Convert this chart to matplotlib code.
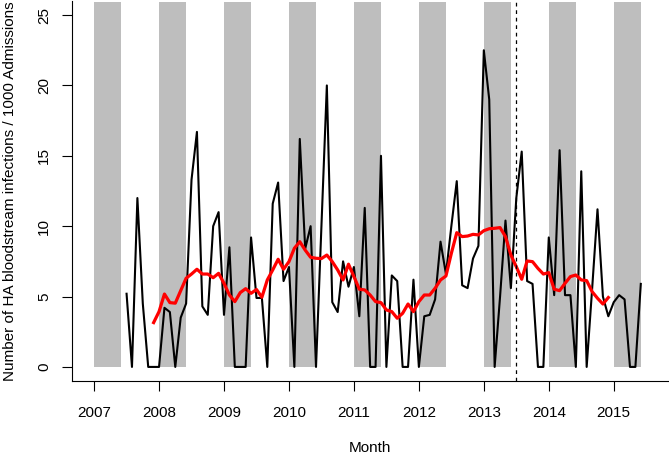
import matplotlib
matplotlib.use('Agg')
import matplotlib.pyplot as plt
import numpy as np

plt.rcParams['font.family'] = ['Liberation Sans', 'DejaVu Sans']
plt.rcParams['font.size'] = 11

# monthly rate, Jul 2007 .. Jun 2015
rate_2007 = [5.2, 0, 12.0, 4.5, 0, 0]  # Jul-Dec
rate_2008 = [0, 4.2, 3.9, 0, 3.5, 4.5, 13.3, 16.7, 4.3, 3.7, 10.0, 11.0]
rate_2009 = [3.7, 8.5, 0, 0, 0, 9.2, 4.9, 4.9, 0, 11.6, 13.1, 6.1]
rate_2010 = [7.1, 0, 16.2, 8.4, 10.0, 0, 10.0, 20.0, 4.6, 3.9, 7.5, 5.7]
rate_2011 = [7.1, 3.6, 11.3, 0, 0, 15.0, 0, 6.5, 6.1, 0, 0, 6.2]
rate_2012 = [0, 3.6, 3.7, 4.8, 8.9, 6.6, 10.0, 13.2, 5.8, 5.6, 7.7, 8.6]
rate_2013 = [22.5, 19.0, 0, 5.0, 10.4, 5.6, 12.0, 15.3, 6.1, 5.9, 0, 0]
rate_2014 = [9.2, 5.1, 15.4, 5.1, 5.1, 0, 13.9, 0, 5.5, 11.2, 5.0, 3.6]
rate_2015 = [4.6, 5.1, 4.8, 0, 0, 5.9]  # Jan-Jun

# smoothed trend, Dec 2007 .. Dec 2014
trend_2007 = [3.15]
trend_2008 = [3.93, 5.18, 4.57, 4.53, 5.42, 6.3, 6.6, 6.94, 6.6, 6.6, 6.34, 6.65]
trend_2009 = [5.94, 5.11, 4.64, 5.28, 5.56, 5.23, 5.5, 4.95, 6.18, 6.89, 7.65, 6.94]
trend_2010 = [7.48, 8.43, 8.9, 8.3, 7.79, 7.72, 7.7, 7.95, 7.48, 6.89, 6.18, 7.3]
trend_2011 = [6.42, 5.52, 5.47, 5.11, 4.64, 4.57, 4.05, 3.93, 3.46, 3.81, 4.47, 3.93]
trend_2012 = [4.64, 5.11, 5.11, 5.59, 6.18, 6.46, 8.07, 9.54, 9.26, 9.3, 9.42, 9.38]
trend_2013 = [9.68, 9.82, 9.85, 9.9, 9.26, 7.95, 7.12, 6.23, 7.53, 7.48, 7.0, 6.6]
trend_2014 = [6.7, 5.52, 5.42, 5.94, 6.42, 6.53, 6.18, 6.13, 5.35, 4.88, 4.47, 4.93]

shade_years = list(range(2007, 2016))
intervention = 2013.5

rate = (rate_2007 + rate_2008 + rate_2009 + rate_2010 + rate_2011 + rate_2012
        + rate_2013 + rate_2014 + rate_2015)
trend = (trend_2007 + trend_2008 + trend_2009 + trend_2010 + trend_2011
         + trend_2012 + trend_2013 + trend_2014)
rate_x = 2007 + 6 / 12 + np.arange(len(rate)) / 12
trend_x = 2007 + 11 / 12 + np.arange(len(trend)) / 12

fig = plt.figure(figsize=(6.69, 4.55), dpi=100)
ax = fig.add_axes([72 / 669, 1 - 381 / 455, 596.3 / 669, 380 / 455])

for yr in shade_years:
    ax.fill_between([yr, yr + 5 / 12], 0, 25.9, color='#BEBEBE', lw=0, zorder=1)

ax.plot(rate_x, rate, color='black', lw=1.5, zorder=3)
ax.plot(trend_x, trend, color='#FF0000', lw=2.3, zorder=4)
ax.axvline(intervention, color='black', lw=0.9, ls=(0, (3, 3)), zorder=5)

ax.set_xlim(2006.66, 2015.84)
ax.set_ylim(-1, 26)
ax.set_xticks(shade_years)
ax.set_yticks([0, 5, 10, 15, 20, 25])
ax.spines['top'].set_visible(False)
ax.spines['right'].set_visible(False)
for s in ['left', 'bottom']:
    ax.spines[s].set_linewidth(0.8)
ax.tick_params(axis='both', length=7, width=0.8, labelsize=11)
ax.tick_params(axis='x', pad=11)
ax.tick_params(axis='y', pad=8)
for lbl in ax.get_yticklabels():
    lbl.set_rotation(90)
    lbl.set_va('center')

fig.text(10 / 669, 1 - 191 / 455, 'Number of HA bloodstream infections / 1000 Admissions',
         rotation=90, ha='center', va='center', fontsize=11)
fig.text(370 / 669, 1 - 448 / 455, 'Month', ha='center', va='center', fontsize=11)

fig.savefig('out.png', dpi=100)
